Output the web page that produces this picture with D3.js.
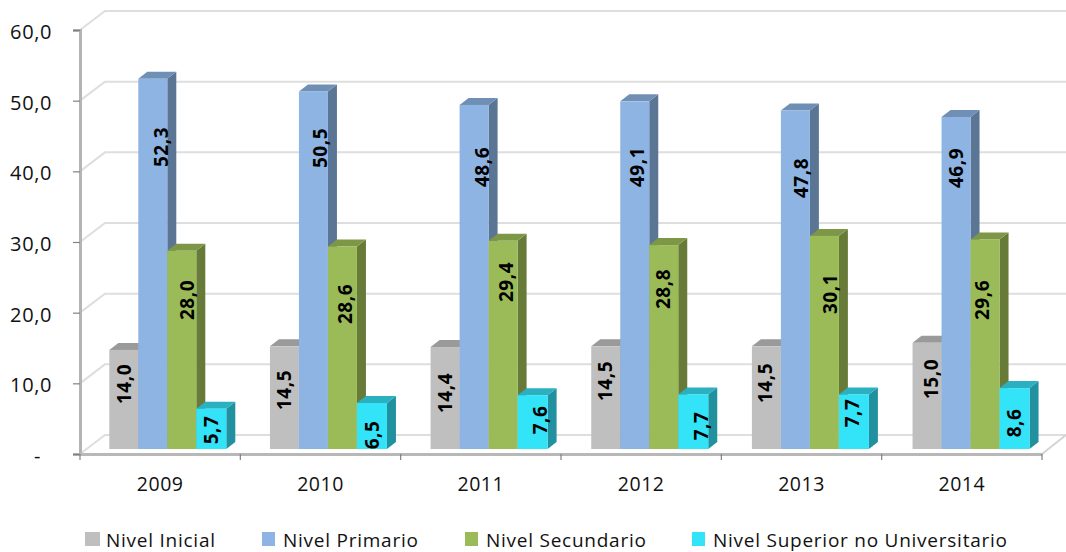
<!DOCTYPE html>
<html><head><meta charset="utf-8">
<script src="https://cdn.jsdelivr.net/npm/d3@7"></script>
<style>html,body{margin:0;padding:0;background:#fff}svg{display:block}text{font-family:"Open Sans",sans-serif}</style>
</head><body><svg id="c" width="1066" height="552"></svg>
<script>
const years=["2009","2010","2011","2012","2013","2014"];
const seriesNames=["Nivel Inicial","Nivel Primario","Nivel Secundario","Nivel Superior no Universitario"];
const inicial=[14.0,14.5,14.4,14.5,14.5,15.0];
const primario=[52.3,50.5,48.6,49.1,47.8,46.9];
const secundario=[28.0,28.6,29.4,28.8,30.1,29.6];
const superior=[5.7,6.5,7.6,7.7,7.7,8.6];
const yTicks=[0,10,20,30,40,50,60];
const front=["#bfbfbf","#8db4e2","#9bbb59","#33e3f8"];
const topC=["#9a9a9a","#6f8fb5","#7d9747","#2ab0c0"];
const side=["#8a8a8a","#5b7595","#677a38","#2191a0"];
// hand-placed label offsets of the source chart: px right of the group start, px above the floor
const labelDx=[[46,46,46,46,46,51],[83,82,83,78,82,76],[109,107,107,104,111,102],[133,134,141,142,133,134]];
const labelUp=[[65,59,56,68,66,70],[302,301,282,282,271,281],[149,145,167,160,155,149],[19,14,29,23,36,26]];

const all=[inicial,primario,secundario,superior];
const svg=d3.select("#c");
const fmt=v=>v===0?"-":d3.format(".1f")(v).replace(".",",");
const y=d3.scaleLinear().domain([0,60]).range([454,30]);
const barY=d3.scaleLinear().domain([0,60]).range([449,24.2]);
const x0=d3.scaleBand().domain(years).range([80,1042]);
const xBars=d3.scaleBand().domain(years).range([79.7,1043.6]);
const depthX=25,depthY=-19,bx=9,by=-7;
const offs=[29.6,58.6,87.6,116.6],widths=[29,29,29,30];

yTicks.forEach(t=>{
  const p=`M80,${y(t)}L${80+depthX},${y(t)+depthY}L1066,${y(t)+depthY}`;
  svg.append("path").attr("d",p).attr("fill","none").attr("stroke","#dedede").attr("stroke-width",2);
});
svg.append("line").attr("x1",1042).attr("y1",454).attr("x2",1066).attr("y2",435).attr("stroke","#d4d4d4").attr("stroke-width",2);

const ax=svg.append("g").attr("transform","translate(80,0)").call(d3.axisLeft(y).tickValues(yTicks).tickFormat(fmt).tickSize(7).tickPadding(21));
ax.select(".domain").attr("stroke","#b4b4b4").attr("stroke-width",3);
ax.selectAll(".tick line").attr("stroke","#808080").attr("stroke-width",1.2);
ax.selectAll("text").attr("font-size",20).attr("letter-spacing",0.6).attr("fill","#111").attr("font-family",'"Open Sans",sans-serif').attr("dy","0.42em")
  .attr("dx",d=>d===0?-11:0);
const bx0=svg.append("g").attr("transform","translate(0,454)").call(d3.axisBottom(x0).tickSize(0).tickPadding(23));
bx0.select(".domain").attr("stroke","#b8b8b8").attr("stroke-width",3);
bx0.selectAll("text").attr("font-size",19.5).attr("letter-spacing",0.5).attr("fill","#111").attr("font-family",'"Open Sans",sans-serif');
[...years.map(d=>x0(d)),1042].forEach(px=>svg.append("line").attr("x1",px).attr("x2",px).attr("y1",454).attr("y2",460).attr("stroke","#808080").attr("stroke-width",1.2));

years.forEach((yr,i)=>{
  const base=xBars(yr);
  all.forEach((arr,s)=>{
    const v=arr[i],l=base+offs[s],w=widths[s],t=barY(v),b=barY(0);
    const g=svg.append("g");
    g.append("path").attr("d",`M${l+w},${t}L${l+w+bx},${t+by}L${l+w+bx},${b+by}L${l+w},${b}Z`).attr("fill",side[s]);
    g.append("path").attr("d",`M${l},${t}L${l+bx},${t+by}L${l+w+bx},${t+by}L${l+w},${t}Z`).attr("fill",topC[s]);
    g.append("rect").attr("x",l).attr("y",t).attr("width",w).attr("height",b-t).attr("fill",front[s]);
  });
});
years.forEach((yr,i)=>{
  const base=x0(yr);
  all.forEach((arr,s)=>{
    const cx=base+labelDx[s][i]+5,cy=barY(0)-labelUp[s][i];
    svg.append("text").attr("transform",`translate(${cx},${cy}) rotate(-90)`).attr("text-anchor","middle")
      .attr("font-size",19).attr("letter-spacing",0.5).attr("font-weight",700).attr("fill","#000").text(fmt(arr[i]));
  });
});
const legX=[85,262,465,692];
seriesNames.forEach((n,s)=>{
  svg.append("rect").attr("x",legX[s]).attr("y",532).attr("width",s?13:15).attr("height",14).attr("fill",front[s]);
  svg.append("text").attr("x",legX[s]+21).attr("y",547).attr("font-size",19).attr("letter-spacing",0.75).attr("fill","#111").text(n);
});
</script></body></html>
